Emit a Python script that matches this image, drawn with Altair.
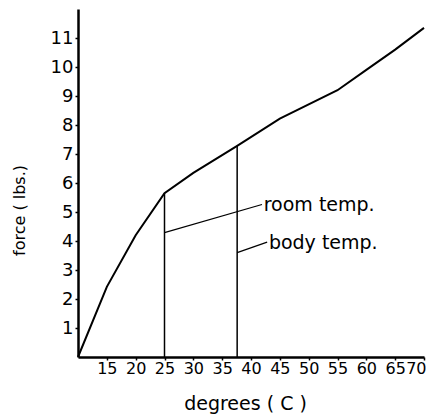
import altair as alt
import pandas as pd

# curve data
degrees = [10, 15, 20, 25, 30, 37.6, 45, 55, 60, 65, 70]
force = [0, 2.42, 4.2, 5.65, 6.35, 7.28, 8.22, 9.2, 9.9, 10.6, 11.35]

# vertical markers
mark_x = [25, 37.6]
mark_top = [5.65, 7.28]

# leader lines
leader_id = ["room", "room", "body", "body"]
leader_x = [25, 41.9, 37.6, 42.8]
leader_y = [4.29, 5.26, 3.6, 3.96]

# annotation texts
label_text = ["room temp.", "body temp."]
label_x = [42.2, 43.1]
label_y = [5.24, 3.93]

x_ticks = [15, 20, 25, 30, 35, 40, 45, 50, 55, 60, 65, 70]
y_ticks = [1, 2, 3, 4, 5, 6, 7, 8, 9, 10, 11]

FONT = "DejaVu Sans"

curve_df = pd.DataFrame({"deg": degrees, "force": force})
marks_df = pd.DataFrame({"deg": mark_x, "top": mark_top, "bottom": [0, 0]})
leader_df = pd.DataFrame({"id": leader_id, "deg": leader_x, "force": leader_y})
label_df = pd.DataFrame({"text": label_text, "deg": label_x, "force": label_y})

xscale = alt.Scale(domain=[10, 70], nice=False, zero=False)
yscale = alt.Scale(domain=[0, 12], nice=False)

xaxis = alt.Axis(
    title="degrees ( C )", values=x_ticks, grid=False, labelOverlap=False,
    labelFlush=True, labelFlushOffset=2,
    domainColor="black", domainWidth=2.5, tickColor="black", tickSize=3, tickWidth=1.5,
    labelFont=FONT, labelFontSize=16, labelColor="black", labelPadding=0,
    titleFont=FONT, titleFontSize=19, titleFontWeight="normal", titleColor="black",
    titleX=167, titleY=46, titleBaseline="middle", titleAlign="center",
)
yaxis = alt.Axis(
    title="force ( lbs.)", values=y_ticks, grid=False, labelOverlap=False, labelFlush=False,
    domainColor="black", domainWidth=2.5, tickColor="black", tickSize=3, tickWidth=1.5,
    labelFont=FONT, labelFontSize=18, labelColor="black", labelPadding=2,
    titleFont=FONT, titleFontSize=16, titleFontWeight="normal", titleColor="black",
    titleX=-59, titleY=201, titleBaseline="middle", titleAlign="center", titleAngle=-90,
)

curve = alt.Chart(curve_df).mark_line(color="black", strokeWidth=2).encode(
    x=alt.X("deg:Q", scale=xscale, axis=xaxis),
    y=alt.Y("force:Q", scale=yscale, axis=yaxis),
)

verticals = alt.Chart(marks_df).mark_rule(color="black", strokeWidth=1.5).encode(
    x=alt.X("deg:Q", scale=xscale, axis=xaxis),
    y=alt.Y("bottom:Q", scale=yscale, axis=yaxis),
    y2="top:Q",
)

leaders = alt.Chart(leader_df).mark_line(color="black", strokeWidth=1.2).encode(
    x=alt.X("deg:Q", scale=xscale, axis=xaxis),
    y=alt.Y("force:Q", scale=yscale, axis=yaxis),
    detail="id:N",
)

labels = alt.Chart(label_df).mark_text(
    align="left", baseline="middle", font=FONT, fontSize=19, color="black"
).encode(
    x=alt.X("deg:Q", scale=xscale, axis=xaxis),
    y=alt.Y("force:Q", scale=yscale, axis=yaxis),
    text="text:N",
)

chart = alt.layer(curve, verticals, leaders, labels).properties(
    width=346, height=348,
    background="white",
    autosize=alt.AutoSizeParams(type="none"),
    padding={"left": 70, "top": 1, "right": 3, "bottom": 58},
).configure_axis(
    labelOverlap=False
).configure_view(stroke=None)

chart.save("out.html", embed_options={"renderer": "svg", "actions": False})
